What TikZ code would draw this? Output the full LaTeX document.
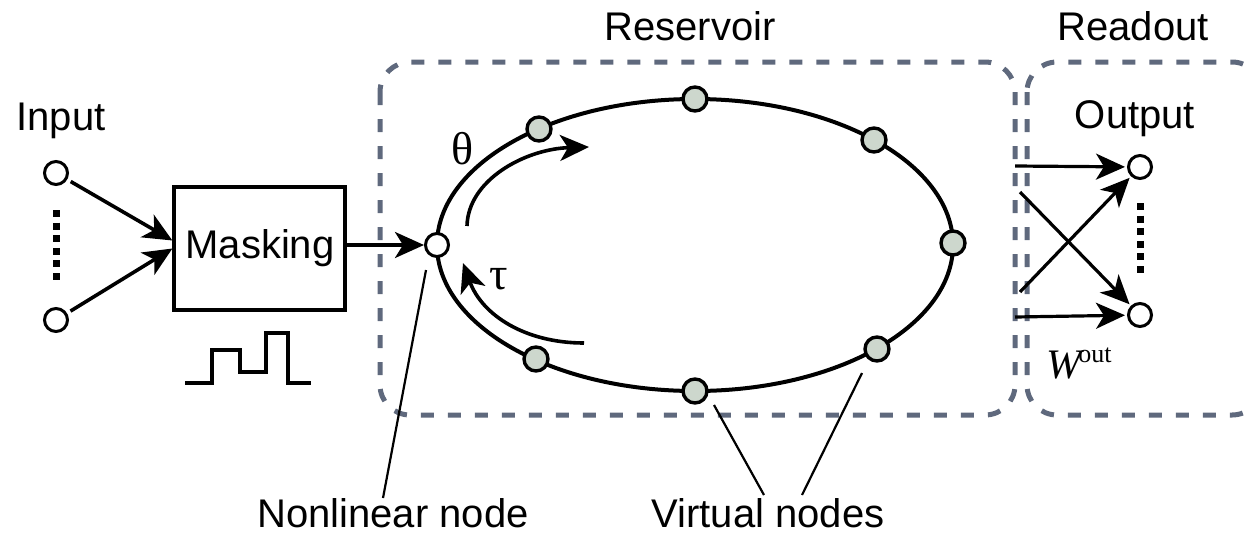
\documentclass[tikz,border=0pt]{standalone}
\usepackage{fontspec}
\setmainfont{Liberation Sans}
\newfontfamily\seriffont{Liberation Serif}
\usetikzlibrary{arrows.meta}
\definecolor{dashgray}{RGB}{95,105,125}
\definecolor{vfill}{RGB}{205,215,205}
\begin{document}
\begin{tikzpicture}[x=0.5pt,y=-0.5pt,
  lbl/.style={font=\fontsize{20}{24}\selectfont, inner sep=0pt, anchor=base},
  greek/.style={font=\seriffont\fontsize{23}{26}\selectfont, inner sep=0pt, anchor=base},
  vnode/.style={circle, draw, line width=1.7pt, fill=vfill, minimum size=12pt, inner sep=0pt},
  onode/.style={circle, draw, line width=1.5pt, fill=white, minimum size=11.5pt, inner sep=0pt},
  arr/.style={line width=1.8pt, -{Stealth[length=14.5pt,width=13pt,inset=4pt]}},
  oarr/.style={line width=1.6pt, -{Stealth[length=14.5pt,width=13pt,inset=4pt]}, shorten >=1pt},
  resbox/.style={draw=dashgray, line width=2.5pt, dash pattern=on 6.5pt off 7pt, rounded corners=15pt},
  dots/.style={line width=3.5pt, dash pattern=on 3.5pt off 2.8pt},
  leader/.style={line width=1.1pt},
]
\useasboundingbox (0,0) rectangle (1246,536);

% dashed group boxes
\draw[resbox] (380,62) rectangle (1015,415);
\draw[resbox] (1027,62) rectangle (1262,415);

% titles
\node[lbl] (tres) at (690,40) {Reservoir};
\node[lbl] (tread) at (1133,40) {Readout};
\node[lbl] (tin) at (61,130) {Input};
\node[lbl] (tout) at (1135,128) {Output};

% ring
\draw[line width=2pt] (695,245) ellipse [x radius=129pt, y radius=73pt];

% nonlinear node and virtual nodes
\node[onode] (nl) at (437,245) {};
\node[vnode] (v1) at (539,129) {};
\node[vnode] (v2) at (695,99) {};
\node[vnode] (v3) at (874,140) {};
\node[vnode] (v4) at (953,243) {};
\node[vnode] (v5) at (877,349) {};
\node[vnode] (v6) at (695,391) {};
\node[vnode] (v7) at (536,359) {};

% theta / tau arrows
\draw[arr] (467,226) .. controls (468,180) and (525,149) .. (589,147);
\node[greek] (theta) at (463,164) {θ};
\draw[arr] (584,343) .. controls (525,343) and (482,315) .. (463,263);
\node[greek] (tau) at (499,289) {τ};

% input side
\node[onode] (in1) at (56,173) {};
\node[onode] (in2) at (56,320) {};
\draw[dots] (56,210) -- (56,281);
\node[draw, line width=1.6pt, minimum width=85.5pt, minimum height=61.5pt, inner sep=0pt] (mask) at (259.5,248.5) {};
\node[lbl] (tmask) at (260,258) {Masking};
\draw[arr, shorten <=2pt] (in1) -- ([yshift=4pt]mask.west);
\draw[arr, shorten <=2pt] (in2) -- (mask.west);
\draw[arr] (mask.east |- nl.west) -- (nl.west);

% mask waveform
\draw[line width=1.6pt] (185,383) -- (212,383) -- (212,350) -- (240,350) -- (240,372)
  -- (266,372) -- (266,333) -- (288,333) -- (288,383) -- (311,383);

% readout
\node[onode] (o1) at (1140,167) {};
\node[onode] (o2) at (1140,315) {};
\draw[dots] (1140,203) -- (1140,278);
\coordinate (r1) at (1015,166);
\coordinate (r2) at (1020,192);
\coordinate (r3) at (1020,292);
\coordinate (r4) at (1015,317);
\draw[oarr] (r1) -- (o1);
\draw[oarr] (r2) -- (o2);
\draw[oarr] (r3) -- (o1);
\draw[oarr] (r4) -- (o2);
\node[anchor=base west, inner sep=0pt] (wout) at (1046,378)
  {{\seriffont\fontsize{21}{24}\selectfont\itshape W}\kern-1.5pt{\seriffont\fontsize{13}{15}\selectfont\raisebox{8pt}{out}}};

% bottom labels and leaders
\node[lbl] (tnl) at (393,527) {Nonlinear node};
\node[lbl] (tvn) at (768,527) {Virtual nodes};
\coordinate (nla) at (426,270);
\coordinate (nlb) at (383,498);
\draw[leader] (nla) -- (nlb);
\coordinate (va1) at (714,405);
\coordinate (vb1) at (764,495);
\coordinate (va2) at (862,373);
\coordinate (vb2) at (802,495);
\draw[leader] (va1) -- (vb1);
\draw[leader] (va2) -- (vb2);
\end{tikzpicture}
\end{document}
